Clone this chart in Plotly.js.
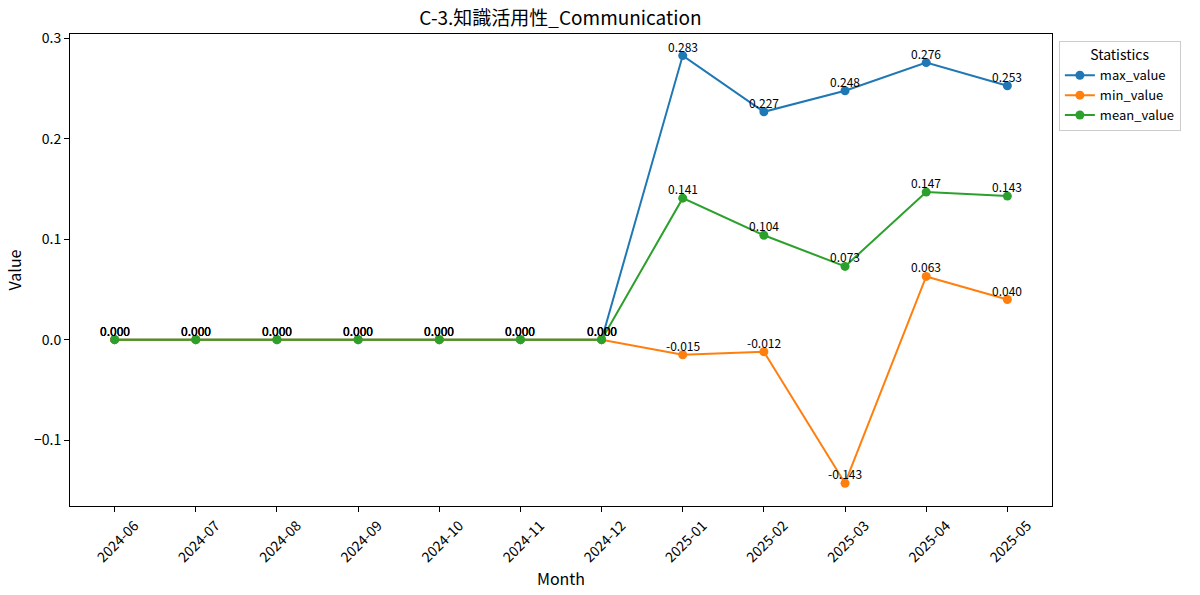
<!DOCTYPE html>
<html><head><meta charset="utf-8">
<script src="https://cdn.plot.ly/plotly-3.0.1.min.js"></script>
<style>body{margin:0;background:#fff}#c{width:1200px;height:595px}</style>
</head><body><div id="c"></div>
<script>
const months = ["2024-06","2024-07","2024-08","2024-09","2024-10","2024-11","2024-12","2025-01","2025-02","2025-03","2025-04","2025-05"];
const maxValue = [0,0,0,0,0,0,0,0.283,0.227,0.248,0.276,0.253];
const minValue = [0,0,0,0,0,0,0,-0.015,-0.012,-0.143,0.063,0.040];
const meanValue = [0,0,0,0,0,0,0,0.141,0.104,0.073,0.147,0.143];
const seriesNames = ["max_value","min_value","mean_value"];
const colors = ["#1f77b4","#ff7f0e","#2ca02c"];
const FONT = "Noto Sans CJK JP, Noto Sans, sans-serif";
const idx = months.map((_, i) => i);
const allSeries = [maxValue, minValue, meanValue];
const data = allSeries.map((vals, k) => ({
  x: idx, y: vals, name: seriesNames[k], type: "scatter", mode: "lines+markers",
  line: {color: colors[k], width: 2}, marker: {color: colors[k], size: 9},
  cliponaxis: false
}));
const annotations = [];
allSeries.forEach(vals => vals.forEach((v, i) => {
  annotations.push({x: idx[i], y: v, xref: "x", yref: "y", text: v.toFixed(3), showarrow: false,
    xanchor: "center", yanchor: "bottom", yshift: 0, borderpad: 0,
    font: {family: FONT, size: 12, color: "#000"}});
}));
const layout = {
  width: 1200, height: 595,
  margin: {l: 70, r: 148, t: 34, b: 89, autoexpand: false},
  paper_bgcolor: "#fff", plot_bgcolor: "#fff",
  font: {family: FONT, size: 14, color: "#000"},
  title: {text: "C-3.知識活用性_Communication", font: {size: 19, family: FONT}, x: 0.467, xanchor: "center", y: 0.97, yanchor: "middle"},
  annotations: annotations,
  xaxis: {
    range: [-0.55, 11.55], tickmode: "array", tickvals: idx, ticktext: months,
    tickangle: -45, showgrid: false, zeroline: false, showline: true, mirror: true,
    linecolor: "#000", linewidth: 1, ticks: "outside", ticklen: 5, tickcolor: "#000",
    tickfont: {size: 14}, ticklabelshift: 20, automargin: false,
    title: {text: "Month", font: {size: 16}, standoff: 3}
  },
  yaxis: {
    range: [-0.1657, 0.3045], tickvals: [-0.1, 0, 0.1, 0.2, 0.3], ticktext: ["−0.1","0.0","0.1","0.2","0.3"],
    showgrid: false, zeroline: false, showline: true, mirror: true,
    linecolor: "#000", linewidth: 1, ticks: "outside", ticklen: 5, tickcolor: "#000",
    tickfont: {size: 14}, automargin: false,
    title: {text: "Value", font: {size: 16}, standoff: 8}
  },
  showlegend: true,
  legend: {x: 1.007, xanchor: "left", y: 0.985, yanchor: "top", bordercolor: "#ccc", borderwidth: 1,
    bgcolor: "#fff", font: {size: 13}, title: {text: "Statistics", side: "top center", font: {size: 14}},
    itemwidth: 30, tracegroupgap: 0}
};
Plotly.newPlot("c", data, layout, {displayModeBar: false});
</script></body></html>
